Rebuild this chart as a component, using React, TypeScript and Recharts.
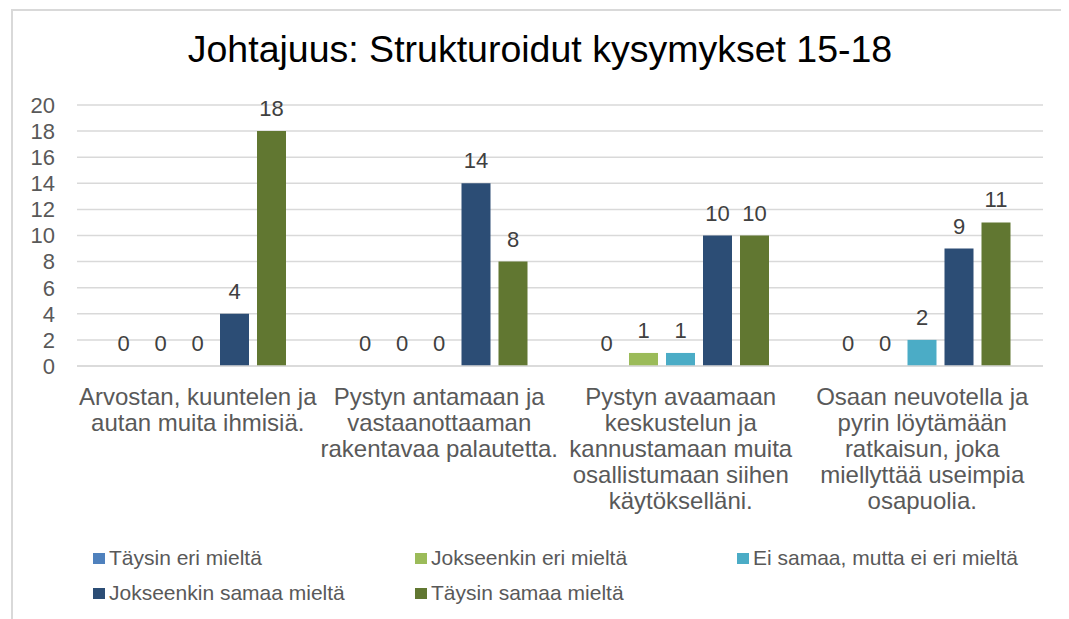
import { BarChart, Bar, XAxis, YAxis, CartesianGrid, LabelList } from 'recharts'

// ---------------------------------------------------------------------------
// Data
// ---------------------------------------------------------------------------

const categories = [
  'Arvostan, kuuntelen ja\nautan muita ihmisiä.',
  'Pystyn antamaan ja\nvastaanottaaman\nrakentavaa palautetta.',
  'Pystyn avaamaan\nkeskustelun ja\nkannustamaan muita\nosallistumaan siihen\nkäytökselläni.',
  'Osaan neuvotella ja\npyrin löytämään\nratkaisun, joka\nmiellyttää useimpia\nosapuolia.',
]

const taysinEri = [0, 0, 0, 0]
const jokseenkinEri = [0, 0, 1, 0]
const eiSamaaEiEri = [0, 0, 1, 2]
const jokseenkinSamaa = [4, 14, 10, 9]
const taysinSamaa = [18, 8, 10, 11]

const yTicks = [0, 2, 4, 6, 8, 10, 12, 14, 16, 18, 20]

const series = [
  { key: 's1', name: 'Täysin eri mieltä', values: taysinEri, color: '#4F81BD' },
  { key: 's2', name: 'Jokseenkin eri mieltä', values: jokseenkinEri, color: '#9BBB59' },
  { key: 's3', name: 'Ei samaa, mutta ei eri mieltä', values: eiSamaaEiEri, color: '#4BACC6' },
  { key: 's4', name: 'Jokseenkin samaa mieltä', values: jokseenkinSamaa, color: '#2C4D75' },
  { key: 's5', name: 'Täysin samaa mieltä', values: taysinSamaa, color: '#617731' },
]

const data = categories.map((name, i) => {
  const row: Record<string, string | number> = { name }
  for (const s of series) row[s.key] = s.values[i]
  return row
})

const FONT = '"Liberation Sans", Arial, sans-serif'

// ---------------------------------------------------------------------------
// Multi-line category tick
// ---------------------------------------------------------------------------

function CategoryTick({ x, y, payload }: any) {
  const lines = String(payload.value).split('\n')
  return (
    <text x={x} y={y} textAnchor="middle" fill="#595959" fontSize={24} fontFamily={FONT}>
      {lines.map((line, i) => (
        <tspan key={i} x={x} dy={i === 0 ? 39 : 26}>
          {line}
        </tspan>
      ))}
    </text>
  )
}

// ---------------------------------------------------------------------------
// Component
// ---------------------------------------------------------------------------

export default function App() {
  return (
    <div style={{ position: 'relative', width: 1061, height: 611, fontFamily: FONT, background: '#fff' }}>
      <div
        style={{
          position: 'absolute',
          left: 3,
          top: 1,
          width: 1058,
          height: 610,
          borderLeft: '2px solid #D9D9D9',
          borderTop: '2px solid #D9D9D9',
          boxSizing: 'border-box',
        }}
      />
      <div
        style={{
          position: 'absolute',
          left: 3,
          top: 19,
          width: 1058,
          textAlign: 'center',
          fontSize: 37.5,
          lineHeight: '44px',
          color: '#000',
        }}
      >
        Johtajuus: Strukturoidut kysymykset 15-18
      </div>

      <BarChart
        width={1061}
        height={611}
        data={data}
        margin={{ top: 97, right: 26, bottom: 113, left: 0 }}
        barCategoryGap={32}
        barGap={8}
      >
        <CartesianGrid vertical={false} stroke="#D9D9D9" strokeWidth={1.5} />
        <XAxis
          dataKey="name"
          height={140}
          interval={0}
          tickLine={false}
          tickSize={0}
          tickMargin={0}
          axisLine={{ stroke: '#D9D9D9', strokeWidth: 1.5 }}
          tick={<CategoryTick />}
        />
        <YAxis
          width={69}
          domain={[0, 20]}
          ticks={yTicks}
          interval={0}
          axisLine={false}
          tickLine={false}
          tickSize={0}
          tickMargin={22}
          tick={{ fontSize: 22, fill: '#595959', fontFamily: FONT }}
        />
        {series.map((s) => (
          <Bar
            key={s.key}
            dataKey={s.key}
            name={s.name}
            fill={s.color}
            minPointSize={0.01}
            isAnimationActive={false}
          >
            <LabelList
              dataKey={s.key}
              position="top"
              offset={15}
              style={{ fontSize: 22, fill: '#404040', fontFamily: FONT }}
            />
          </Bar>
        ))}
      </BarChart>

      <div
        style={{
          position: 'absolute',
          left: 85,
          top: 538,
          width: 966,
          display: 'flex',
          flexWrap: 'wrap',
          rowGap: 11,
        }}
      >
        {series.map((s) => (
          <div
            key={s.key}
            style={{ width: 322, display: 'flex', alignItems: 'center', height: 24, fontSize: 21, color: '#595959' }}
          >
            <span style={{ width: 12, height: 11, background: s.color, marginRight: 4, flexShrink: 0 }} />
            <span>{s.name}</span>
          </div>
        ))}
      </div>
    </div>
  )
}
